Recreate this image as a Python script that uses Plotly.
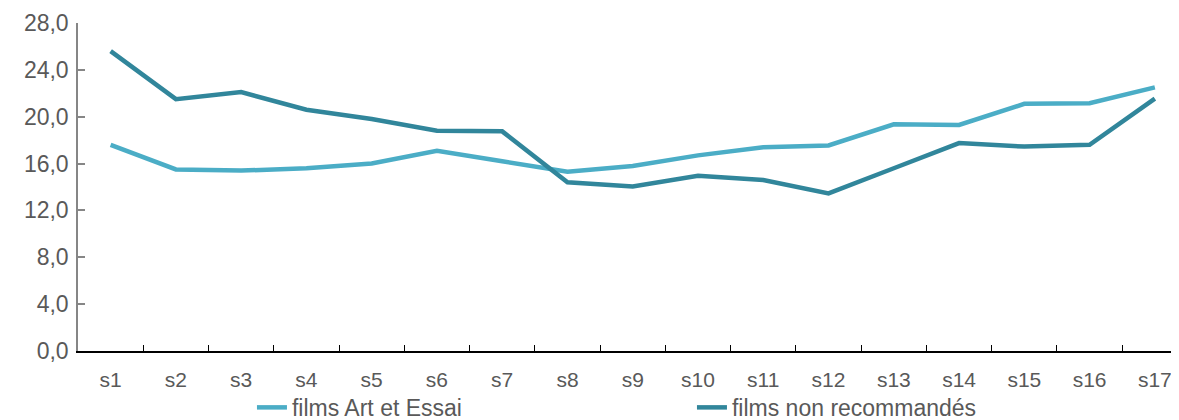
import plotly.graph_objects as go

categories = [f"s{i}" for i in range(1, 18)]
art_essai = [17.6, 15.5, 15.4, 15.6, 16.0, 17.1, 16.2, 15.3, 15.8, 16.7, 17.4, 17.55, 19.35, 19.3, 21.1, 21.15, 22.5]
non_recommandes = [25.6, 21.5, 22.1, 20.6, 19.8, 18.8, 18.75, 14.4, 14.05, 14.95, 14.6, 13.45, 15.6, 17.75, 17.45, 17.6, 21.55]
y_ticks = [0, 4, 8, 12, 16, 20, 24, 28]

LIGHT = "#4BADC6"
DARK = "#31869B"
TXT = "#595959"

fig = go.Figure()
fig.add_trace(go.Scatter(x=categories, y=art_essai, mode="lines", name="films Art et Essai",
                         line=dict(color=LIGHT, width=4.5)))
fig.add_trace(go.Scatter(x=categories, y=non_recommandes, mode="lines", name="films non recommandés",
                         line=dict(color=DARK, width=4.5)))

fig.update_layout(
    width=1171, height=412,
    margin=dict(l=70, r=0, t=15, b=69, autoexpand=False),
    plot_bgcolor="white", paper_bgcolor="white",
    separators=", ",
    font=dict(family="Liberation Sans, Arial, sans-serif", size=22, color=TXT),
    showlegend=True,
    legend=dict(orientation="h", x=0.158, xanchor="left", y=-0.172, yanchor="middle",
                entrywidth=395, entrywidthmode="pixels",
                font=dict(size=23, color=TXT), tracegroupgap=0,
                bgcolor="rgba(0,0,0,0)"),
    xaxis=dict(type="category", range=[-0.5, 16.37], showgrid=False, automargin=False,
               showline=True, linecolor="black", linewidth=1.5,
               ticks="inside", ticklen=6, tickcolor="black", tickwidth=1.2,
               tickson="boundaries", ticklabelstandoff=9,
               tickfont=dict(size=21, color=TXT), zeroline=False),
    yaxis=dict(range=[0, 28], tickvals=y_ticks, tickformat=".1f", showgrid=False, automargin=False,
               showline=True, linecolor="#868686", linewidth=1.5,
               ticks="inside", ticklen=7, tickcolor="#868686", tickwidth=1.5,
               ticklabelstandoff=3,
               tickfont=dict(size=23, color=TXT), zeroline=False),
)

fig.write_html("out.html")
